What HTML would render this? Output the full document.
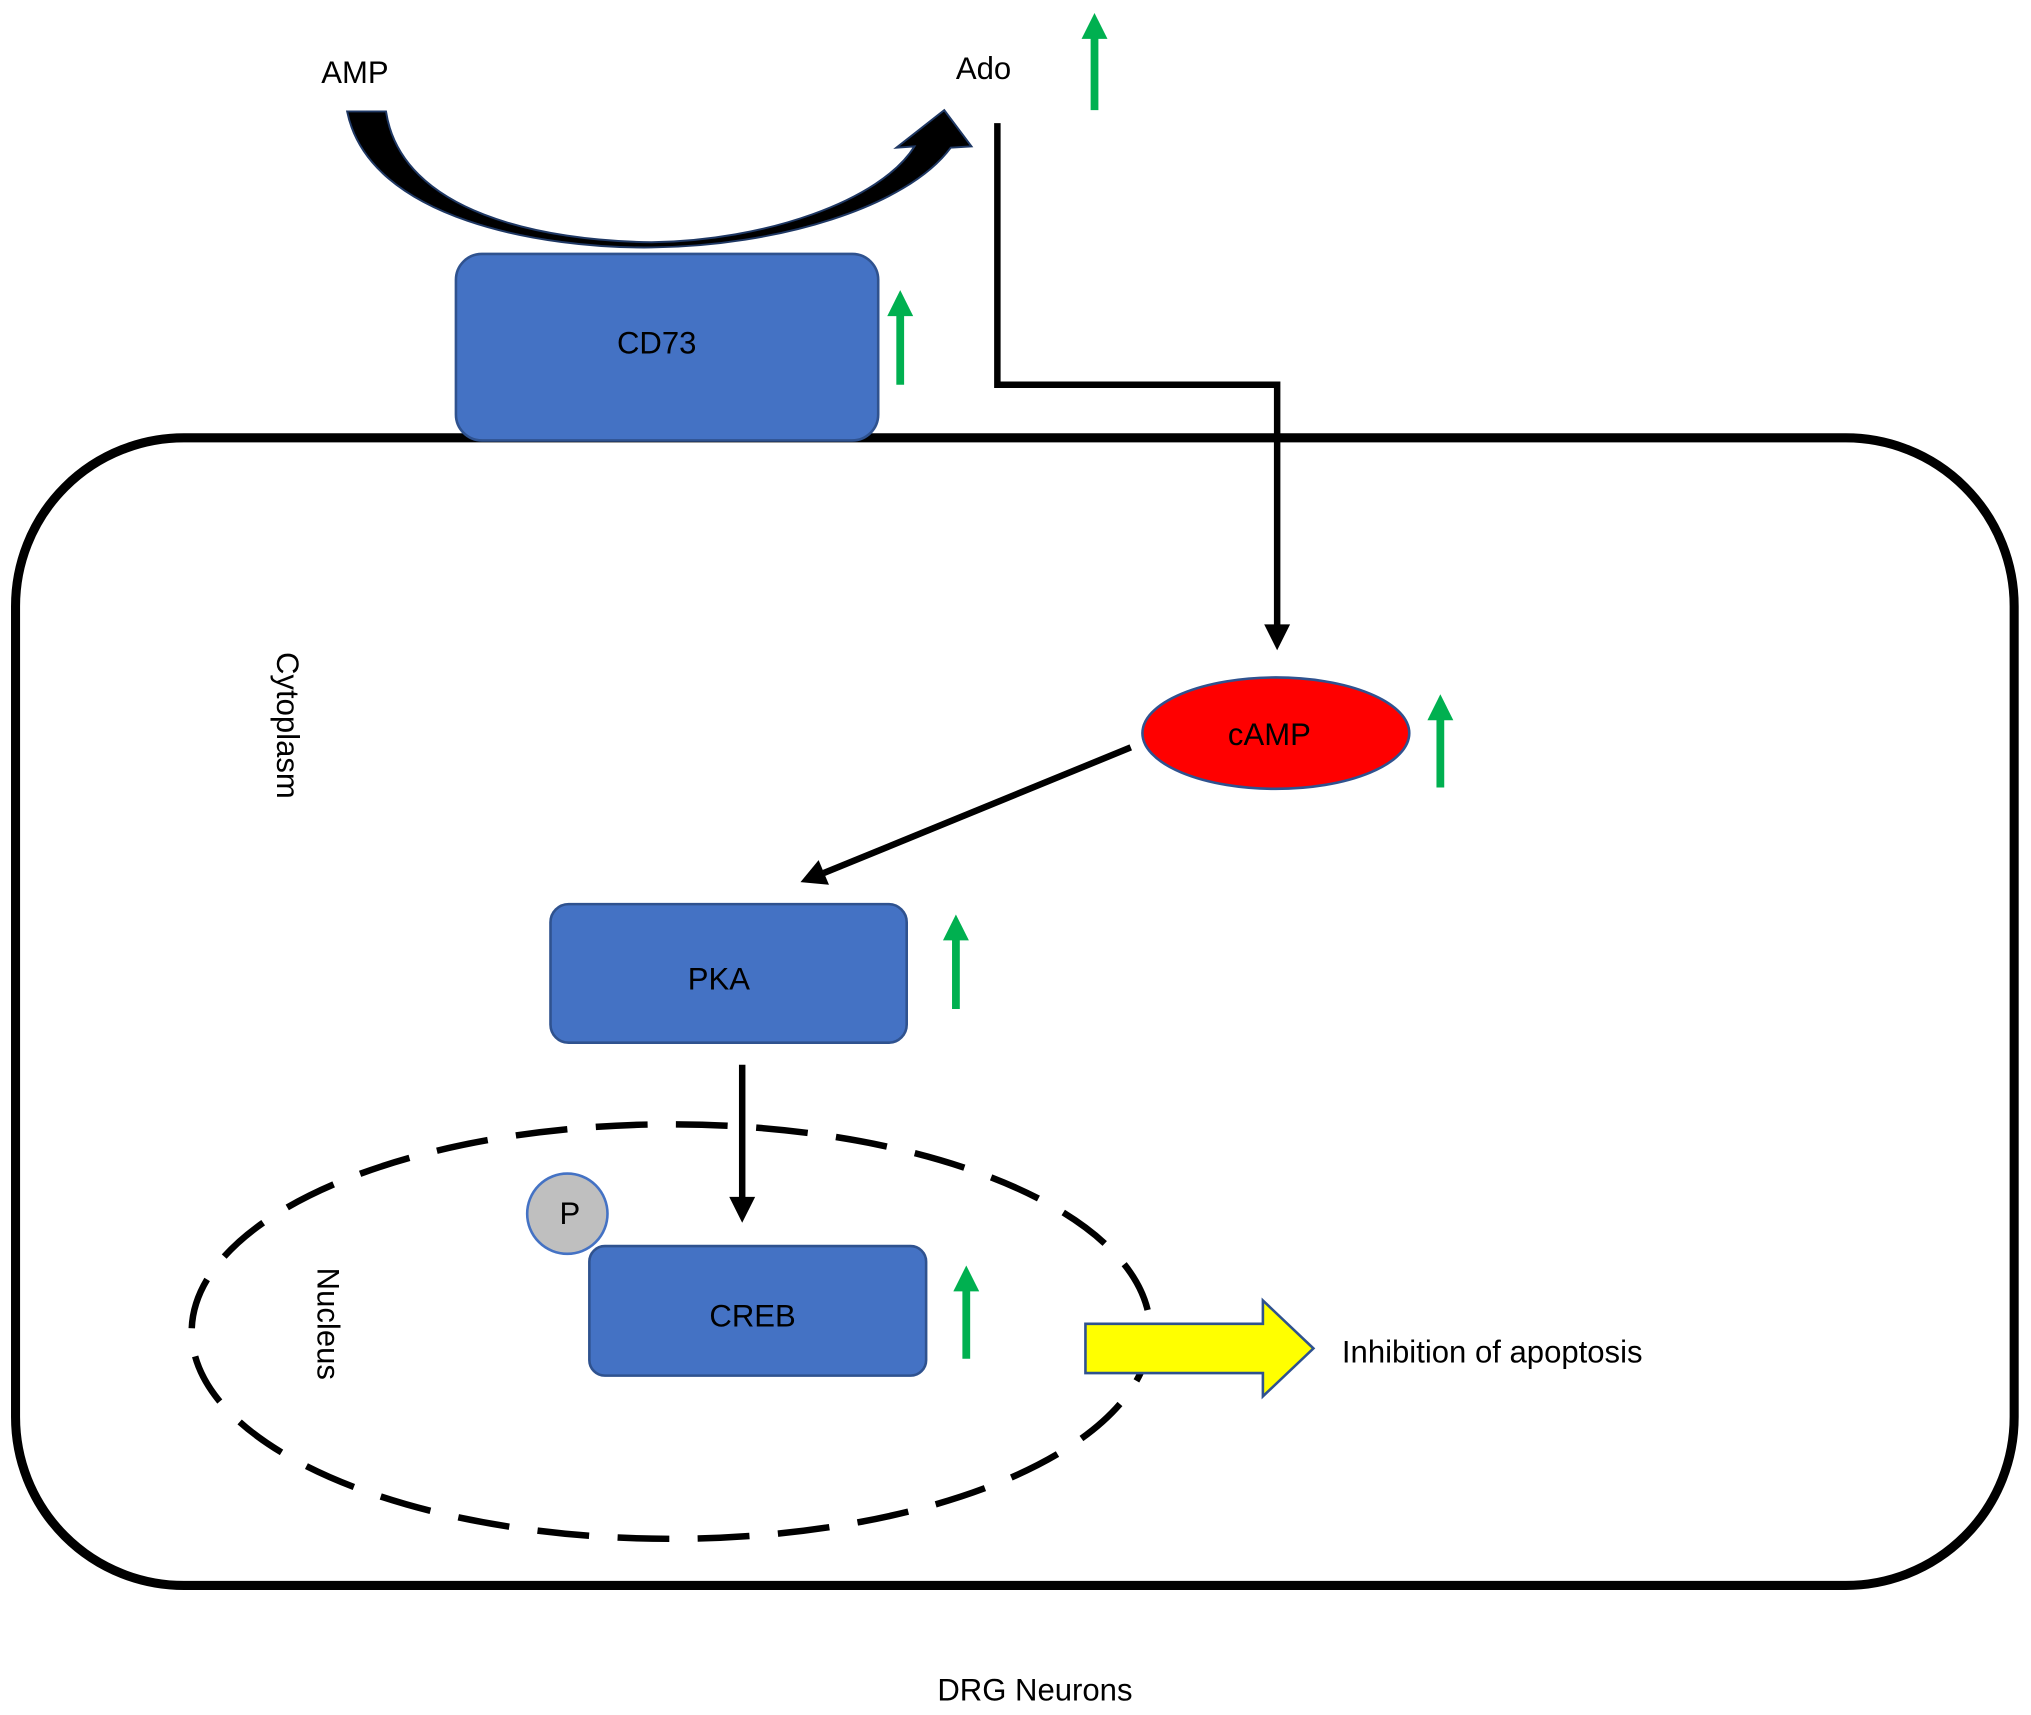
<!DOCTYPE html>
<html><head><meta charset="utf-8"><style>
html,body{margin:0;padding:0;background:#fff;}
svg{display:block;}
text{font-family:"Liberation Sans",Arial,sans-serif;}
</style></head><body>
<svg width="2031" height="1715" viewBox="0 0 1568 1324" xmlns="http://www.w3.org/2000/svg">
<rect width="1568" height="1324" fill="#fff"/>
<!-- cell -->
<rect x="12" y="338" width="1543" height="886" rx="130" ry="130" fill="none" stroke="#000" stroke-width="7"/>
<!-- CD73 -->
<rect x="352" y="196" width="326" height="144" rx="20" fill="#4472C4" stroke="#2F528F" stroke-width="2"/>
<text x="507" y="273" font-size="24" text-anchor="middle" fill="#000">CD73</text>
<!-- curved arrow -->
<path d="M268,86 C285,170 420,192 503,191 C600,190 700,160 734,114 L750,113 L729,85 L692,114 L706,113 C680,155 590,186 503,187 C420,186 310,165 298,86 Z" fill="#000" stroke="#1F3864" stroke-width="1.5"/>
<text x="248" y="64" font-size="24">AMP</text>
<text x="738" y="61" font-size="24">Ado</text>
<!-- green arrows -->
<g stroke="#00B050" stroke-width="6" fill="#00B050">
<line x1="845" y1="85" x2="845" y2="28"/><path d="M835,30 L845,10 L855,30 Z" stroke="none"/>
<line x1="695" y1="297" x2="695" y2="242"/><path d="M685,244 L695,224 L705,244 Z" stroke="none"/>
<line x1="1112" y1="608" x2="1112" y2="554"/><path d="M1102,556 L1112,536 L1122,556 Z" stroke="none"/>
<line x1="738" y1="779" x2="738" y2="724"/><path d="M728,726 L738,706 L748,726 Z" stroke="none"/>
<line x1="746" y1="1049" x2="746" y2="995"/><path d="M736,997 L746,977 L756,997 Z" stroke="none"/>
</g>
<!-- connector Ado -> cAMP -->
<polyline points="770,95 770,297 986,297 986,485" fill="none" stroke="#000" stroke-width="5"/>
<path d="M976,482 L986,502 L996,482 Z" fill="#000"/>
<!-- cAMP -->
<ellipse cx="985" cy="566" rx="103" ry="43" fill="#FF0000" stroke="#2F528F" stroke-width="2"/>
<text x="980" y="575" font-size="24" text-anchor="middle">cAMP</text>
<!-- cAMP -> PKA -->
<line x1="873" y1="577" x2="636" y2="674" stroke="#000" stroke-width="5"/>
<path d="M632,664 L618,681 L640,683 Z" fill="#000"/>
<!-- PKA -->
<rect x="425" y="698" width="275" height="107" rx="14" fill="#4472C4" stroke="#2F528F" stroke-width="2"/>
<text x="555" y="764" font-size="24" text-anchor="middle">PKA</text>
<!-- PKA -> CREB -->
<line x1="573" y1="822" x2="573" y2="926" stroke="#000" stroke-width="5"/>
<path d="M563,924 L573,944 L583,924 Z" fill="#000"/>
<!-- nucleus -->
<ellipse cx="518" cy="1028" rx="370" ry="160" fill="none" stroke="#000" stroke-width="5" stroke-dasharray="40 22"/>
<!-- P -->
<circle cx="438" cy="937" r="31" fill="#BFBFBF" stroke="#4472C4" stroke-width="2"/>
<text x="440" y="945" font-size="24" text-anchor="middle">P</text>
<!-- CREB -->
<rect x="455" y="962" width="260" height="100" rx="12" fill="#4472C4" stroke="#2F528F" stroke-width="2"/>
<text x="581" y="1024" font-size="24" text-anchor="middle">CREB</text>
<!-- yellow arrow -->
<path d="M838,1022 L975,1022 L975,1004 L1014,1041 L975,1078 L975,1060 L838,1060 Z" fill="#FFFF00" stroke="#2F528F" stroke-width="2"/>
<text x="1036" y="1052" font-size="24">Inhibition of apoptosis</text>
<!-- rotated labels -->
<text x="0" y="0" font-size="24" text-anchor="middle" transform="translate(214,560) rotate(90)">Cytoplasm</text>
<text x="0" y="0" font-size="24" text-anchor="middle" transform="translate(245,1022) rotate(90)">Nucleus</text>
<text x="799" y="1313" font-size="24" text-anchor="middle">DRG Neurons</text>
</svg>
</body></html>
